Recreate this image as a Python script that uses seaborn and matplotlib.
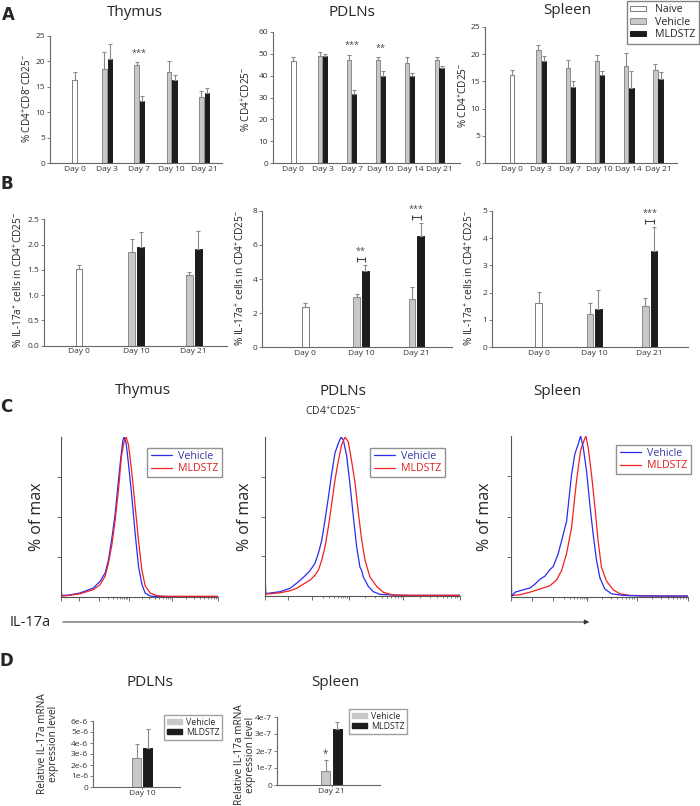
"""IL-17a in CD4+CD25- T cells: bar panels (A, B, D) and flow histograms (C)."""

import matplotlib
matplotlib.use("Agg")
import matplotlib.pyplot as plt
from matplotlib.lines import Line2D
from matplotlib.patches import FancyArrowPatch, Patch
import numpy as np
import pandas as pd
import seaborn as sns

sns.set_style("white")
plt.rcParams["font.family"] = ["Open Sans", "DejaVu Sans"]
plt.rcParams["mathtext.fontset"] = "custom"
plt.rcParams["mathtext.rm"] = "Open Sans"
plt.rcParams["mathtext.it"] = "Open Sans:italic"
plt.rcParams["mathtext.bf"] = "Open Sans:bold"

W, H = 700, 806

GROUPS = ["Naive", "Vehicle", "MLDSTZ"]
COLORS = {"Naive": "#ffffff", "Vehicle": "#c8c8c8", "MLDSTZ": "#1c1c1c"}
EDGES = {"Naive": "#7a7a7a", "Vehicle": "#8a8a8a", "MLDSTZ": "#1c1c1c"}
BLUE, RED = "#2b2bf0", "#f02020"

# ---- panel A: % CD4+CD25- (thymus: CD4+CD8-CD25-) ----
DAYS_A_THY = ["Day 0", "Day 3", "Day 7", "Day 10", "Day 21"]
DAYS_A = ["Day 0", "Day 3", "Day 7", "Day 10", "Day 14", "Day 21"]

A_THY_NAIVE, A_THY_NAIVE_ERR = [16.4], [1.5]
A_THY_VEH = [18.6, 19.2, 17.9, 13.0]
A_THY_VEH_ERR = [3.2, 0.7, 2.2, 1.1]
A_THY_MLD = [20.4, 12.2, 16.3, 13.8]
A_THY_MLD_ERR = [3.1, 1.0, 1.0, 0.9]
A_THY_SIG = {"Day 7": "***"}

A_PDLN_NAIVE, A_PDLN_NAIVE_ERR = [46.6], [1.9]
A_PDLN_VEH = [49.2, 47.2, 47.2, 45.8, 47.3]
A_PDLN_VEH_ERR = [1.8, 2.4, 1.3, 2.7, 1.2]
A_PDLN_MLD = [48.9, 31.6, 39.7, 40.0, 43.5]
A_PDLN_MLD_ERR = [1.0, 2.0, 2.6, 1.2, 0.8]
A_PDLN_SIG = {"Day 7": "***", "Day 10": "**"}

A_SPL_NAIVE, A_SPL_NAIVE_ERR = [16.1], [1.0]
A_SPL_VEH = [20.7, 17.4, 18.8, 17.8, 17.1]
A_SPL_VEH_ERR = [0.9, 1.6, 1.0, 2.5, 1.1]
A_SPL_MLD = [18.7, 13.9, 16.1, 13.7, 15.5]
A_SPL_MLD_ERR = [1.0, 1.2, 0.9, 3.3, 1.3]

# ---- panel B: % IL-17a+ cells in CD4+CD25- ----
DAYS_B = ["Day 0", "Day 10", "Day 21"]

B_THY_NAIVE, B_THY_NAIVE_ERR = [1.52], [0.08]
B_THY_VEH, B_THY_VEH_ERR = [1.85, 1.40], [0.25, 0.06]
B_THY_MLD, B_THY_MLD_ERR = [1.95, 1.92], [0.29, 0.35]

B_PDLN_NAIVE, B_PDLN_NAIVE_ERR = [2.34], [0.27]
B_PDLN_VEH, B_PDLN_VEH_ERR = [2.97, 2.81], [0.13, 0.70]
B_PDLN_MLD, B_PDLN_MLD_ERR = [4.49, 6.52], [0.31, 0.74]
B_PDLN_SIG = {"Day 10": "**", "Day 21": "***"}

B_SPL_NAIVE, B_SPL_NAIVE_ERR = [1.61], [0.43]
B_SPL_VEH, B_SPL_VEH_ERR = [1.21, 1.51], [0.42, 0.31]
B_SPL_MLD, B_SPL_MLD_ERR = [1.40, 3.52], [0.69, 0.87]
B_SPL_SIG = {"Day 21": "***"}

# ---- panel C: IL-17a histograms (% of max), x as fraction of the axis ----
C_THY_VEH_X = [0.0, 0.004, 0.05, 0.121, 0.206, 0.249, 0.281, 0.302, 0.323, 0.345, 0.366,
               0.381, 0.394, 0.402, 0.415, 0.430, 0.451, 0.472, 0.494, 0.515, 0.536,
               0.568, 0.611, 0.700, 1.0]
C_THY_VEH_Y = [8, 1, 1.2, 2.5, 5.6, 9.8, 15, 23, 36, 52, 73,
               87, 98, 100, 96, 83, 63, 40, 19, 8, 2.5,
               0.6, 0.3, 0.3, 0.3]
C_THY_MLD_X = [0.0, 0.004, 0.05, 0.121, 0.206, 0.249, 0.281, 0.302, 0.323, 0.345, 0.366,
               0.385, 0.402, 0.415, 0.430, 0.451, 0.472, 0.494, 0.515, 0.536,
               0.568, 0.611, 0.674, 1.0]
C_THY_MLD_Y = [3, 0.5, 1.0, 2.0, 4.6, 7.7, 13, 21, 32, 48, 67,
               88, 97, 100, 95, 78, 57, 35, 17, 7,
               2.5, 0.8, 0.4, 0.4]

C_PDLN_VEH_X = [0.0, 0.004, 0.077, 0.128, 0.162, 0.197, 0.231, 0.256, 0.274, 0.291, 0.308,
                0.325, 0.342, 0.359, 0.376, 0.390, 0.402, 0.419, 0.436, 0.453, 0.470,
                0.487, 0.496, 0.504, 0.530, 0.556, 0.590, 0.700, 1.0]
C_PDLN_VEH_Y = [14, 1.5, 2.7, 4.8, 8, 11.7, 16, 20.5, 27, 35, 48,
                62, 77, 90, 96, 100, 98, 88, 70, 50, 31,
                18, 16, 12, 6, 2.7, 1.0, 0.4, 0.4]
C_PDLN_MLD_X = [0.0, 0.004, 0.077, 0.128, 0.162, 0.197, 0.231, 0.256, 0.274, 0.291, 0.308,
                0.325, 0.342, 0.359, 0.376, 0.393, 0.410, 0.427, 0.444, 0.462, 0.479,
                0.496, 0.513, 0.538, 0.573, 0.607, 0.658, 0.761, 1.0]
C_PDLN_MLD_Y = [6, 1.2, 2.0, 3.3, 4.8, 7.5, 10, 13, 16.3, 22.6, 31,
                43.5, 58, 73, 85, 95, 100, 97, 85, 71, 52,
                35, 22.6, 12, 6, 2.3, 0.6, 0.4, 0.4]

C_SPL_VEH_X = [0.0, 0.004, 0.023, 0.070, 0.107, 0.135, 0.164, 0.192, 0.220, 0.239, 0.267,
               0.286, 0.314, 0.342, 0.361, 0.380, 0.393, 0.408, 0.427, 0.445, 0.464,
               0.483, 0.502, 0.530, 0.568, 0.633, 0.746, 1.0]
C_SPL_VEH_Y = [16, 0.5, 3, 4.5, 5.6, 8, 11, 13, 17, 19, 27,
               35, 47, 76, 89, 95, 100, 93, 78, 58, 39,
               23, 12, 5, 2, 1, 0.6, 0.6]
C_SPL_MLD_X = [0.0, 0.051, 0.107, 0.164, 0.220, 0.258, 0.286, 0.314, 0.342, 0.370, 0.393,
               0.412, 0.423, 0.436, 0.455, 0.474, 0.492, 0.511, 0.539, 0.577, 0.615,
               0.671, 0.840, 1.0]
C_SPL_MLD_Y = [1, 1.4, 3, 5, 7, 10.7, 16.5, 27, 43, 72, 91,
               97, 100, 93, 76, 56, 35, 18.5, 10, 4.5, 2,
               1, 0.6, 0.6]

# ---- panel D: relative IL-17a mRNA ----
D_PDLN_DAY = ["Day 10"]
D_PDLN_VEH, D_PDLN_VEH_ERR = [2.6e-6], [1.3e-6]
D_PDLN_MLD, D_PDLN_MLD_ERR = [3.55e-6], [1.7e-6]
D_SPL_DAY = ["Day 21"]
D_SPL_VEH, D_SPL_VEH_ERR = [0.8e-7], [0.7e-7]
D_SPL_MLD, D_SPL_MLD_ERR = [3.3e-7], [0.4e-7]
D_SPL_SIG = {"Vehicle": "*"}

fig = plt.figure(figsize=(W / 100, H / 100), dpi=100)


def add_ax(l, t, r, b):
    """Axes from pixel box (left, top, right, bottom)."""
    return fig.add_axes([l / W, 1 - b / H, (r - l) / W, (b - t) / H])


def ftext(x, y, s, **kw):
    fig.text(x / W, 1 - y / H, s, ha=kw.pop("ha", "center"), va=kw.pop("va", "center"), **kw)


def style_axes(ax, tick_size=6):
    sns.despine(ax=ax)
    for side in ("left", "bottom"):
        ax.spines[side].set_color("#666666")
        ax.spines[side].set_linewidth(0.8)
    ax.tick_params(axis="y", length=2, width=0.6, color="#666666", labelsize=tick_size,
                   labelcolor="#333333", pad=1.5, left=True)
    ax.tick_params(axis="x", length=0, labelsize=tick_size, labelcolor="#333333", pad=2)
    ax.set_xlabel("")
    ax.set_ylabel("")


def bar_panel(ax, days, naive, naive_err, veh, veh_err, mld, mld_err,
              bar_w, pair_w, gap):
    rows = []
    if naive is not None:
        rows.append((days[0], "Naive", naive[0], naive_err[0]))
    treat_days = days[1:] if naive is not None else days
    rows += [(d, "Vehicle", v, e) for d, v, e in zip(treat_days, veh, veh_err)]
    rows += [(d, "MLDSTZ", v, e) for d, v, e in zip(treat_days, mld, mld_err)]
    df = pd.DataFrame(rows, columns=["day", "group", "value", "err"])

    groups = []
    if naive is not None:
        sns.barplot(data=df[df.group == "Naive"], x="day", y="value", order=days,
                    color=COLORS["Naive"], width=bar_w, saturation=1, errorbar=None,
                    linewidth=0.7, edgecolor=EDGES["Naive"], ax=ax)
        groups.append("Naive")
    sns.barplot(data=df[df.group != "Naive"], x="day", y="value", hue="group",
                hue_order=["Vehicle", "MLDSTZ"], order=days,
                palette=[COLORS["Vehicle"], COLORS["MLDSTZ"]], width=pair_w, gap=gap,
                saturation=1, errorbar=None, linewidth=0.7, legend=False, ax=ax)
    groups += ["Vehicle", "MLDSTZ"]

    lookup = {(r.group, r.day): (r.value, r.err) for r in df.itertuples()}
    centers = {}
    for cont, grp in zip(list(ax.containers), groups):
        for p in cont.patches:
            p.set_edgecolor(EDGES[grp])
            cx = p.get_x() + p.get_width() / 2
            day = days[int(round(cx))]
            val, err = lookup[(grp, day)]
            centers[(grp, day)] = (cx, val + err)
            ax.errorbar(cx, val, yerr=[[0], [err]], fmt="none", ecolor="#8a8a8a",
                        elinewidth=0.8, capsize=1.6, capthick=0.8)
    return centers


def stars_above(ax, centers, sig, ymax, days):
    for day, s in sig.items():
        top = max(centers[("Vehicle", day)][1], centers[("MLDSTZ", day)][1])
        ax.text(days.index(day), top + 0.07 * ymax, s, ha="center", va="center",
                fontsize=6.5, color="#444444")


def bracket_stars(ax, centers, sig, ymax):
    for day, s in sig.items():
        x1, t1 = centers[("Vehicle", day)]
        x2, t2 = centers[("MLDSTZ", day)]
        yb = max(t1, t2) + 0.05 * ymax
        ax.errorbar((x1 + x2) / 2, yb, xerr=(x2 - x1) / 2, fmt="none", ecolor="#444444",
                    elinewidth=0.8, capsize=1.8, capthick=0.8)
        ax.text((x1 + x2) / 2, yb + 0.05 * ymax, s, ha="center", va="center",
                fontsize=6.5, color="#444444")


# ================= A =================
ax = add_ax(50, 36, 222, 163)
c = bar_panel(ax, DAYS_A_THY, A_THY_NAIVE, A_THY_NAIVE_ERR, A_THY_VEH, A_THY_VEH_ERR,
              A_THY_MLD, A_THY_MLD_ERR, 0.15, 0.34, 0.18)
ax.set_ylim(0, 25)
ax.set_yticks(range(0, 26, 5))
ax.set_xlim(-0.76, 4.55)
style_axes(ax)
stars_above(ax, c, A_THY_SIG, 25, DAYS_A_THY)
ftext(28, 99, "% CD4$^{+}$CD8$^{-}$CD25$^{-}$", rotation=90, fontsize=7.2, color="#222222")

ax = add_ax(273, 32, 460, 163)
c = bar_panel(ax, DAYS_A, A_PDLN_NAIVE, A_PDLN_NAIVE_ERR, A_PDLN_VEH, A_PDLN_VEH_ERR,
              A_PDLN_MLD, A_PDLN_MLD_ERR, 0.15, 0.34, 0.18)
ax.set_ylim(0, 60)
ax.set_yticks(range(0, 61, 10))
ax.set_xlim(-0.70, 5.72)
style_axes(ax)
stars_above(ax, c, A_PDLN_SIG, 60, DAYS_A)
ftext(247, 99, "% CD4$^{+}$CD25$^{-}$", rotation=90, fontsize=7.2, color="#222222")

ax = add_ax(485, 27, 677, 163)
bar_panel(ax, DAYS_A, A_SPL_NAIVE, A_SPL_NAIVE_ERR, A_SPL_VEH, A_SPL_VEH_ERR,
          A_SPL_MLD, A_SPL_MLD_ERR, 0.15, 0.36, 0.18)
ax.set_ylim(0, 25)
ax.set_yticks(range(0, 26, 5))
ax.set_xlim(-0.92, 5.65)
style_axes(ax)
ftext(464, 95, "% CD4$^{+}$CD25$^{-}$", rotation=90, fontsize=7.2, color="#222222")

leg_a = [Patch(facecolor=COLORS[g], edgecolor=EDGES[g], linewidth=0.7) for g in GROUPS]
fig.legend(leg_a, GROUPS, loc="upper right", bbox_to_anchor=(699 / W, 1 - 1 / H),
           fontsize=7.7, frameon=True, fancybox=False, edgecolor="#666666",
           handlelength=1.5, handleheight=0.45, handletextpad=0.9, labelspacing=0.15,
           borderpad=0.3, borderaxespad=0)

ftext(135, 12, "Thymus", fontsize=11)
ftext(352, 12, "PDLNs", fontsize=11)
ftext(567, 10, "Spleen", fontsize=11)
ftext(8, 15, "A", fontsize=12, fontweight="bold", family="DejaVu Sans")

# ================= B =================
ax = add_ax(44, 219.3, 227, 345.5)
bar_panel(ax, DAYS_B, B_THY_NAIVE, B_THY_NAIVE_ERR, B_THY_VEH, B_THY_VEH_ERR,
          B_THY_MLD, B_THY_MLD_ERR, 0.12, 0.31, 0.22)
ax.set_ylim(0, 2.5)
ax.set_yticks(np.arange(0, 2.51, 0.5))
ax.set_yticklabels([f"{v:.1f}" for v in np.arange(0, 2.51, 0.5)])
ax.set_xlim(-0.61, 2.58)
style_axes(ax)
ftext(19, 280, "% IL-17a$^{+}$ cells in CD4$^{+}$CD25$^{-}$", rotation=90, fontsize=7.3,
      color="#222222")

ax = add_ax(262, 210.7, 452, 347.3)
c = bar_panel(ax, DAYS_B, B_PDLN_NAIVE, B_PDLN_NAIVE_ERR, B_PDLN_VEH, B_PDLN_VEH_ERR,
              B_PDLN_MLD, B_PDLN_MLD_ERR, 0.12, 0.31, 0.22)
ax.set_ylim(0, 8)
ax.set_yticks(range(0, 9, 2))
ax.set_xlim(-0.78, 2.64)
style_axes(ax)
bracket_stars(ax, c, B_PDLN_SIG, 8)
ftext(241, 278, "% IL-17a$^{+}$ cells in CD4$^{+}$CD25$^{-}$", rotation=90, fontsize=7.3,
      color="#222222")

ax = add_ax(492, 210.7, 688, 347.3)
c = bar_panel(ax, DAYS_B, B_SPL_NAIVE, B_SPL_NAIVE_ERR, B_SPL_VEH, B_SPL_VEH_ERR,
              B_SPL_MLD, B_SPL_MLD_ERR, 0.12, 0.31, 0.22)
ax.set_ylim(0, 5)
ax.set_yticks(range(0, 6))
ax.set_xlim(-0.84, 2.69)
style_axes(ax)
bracket_stars(ax, c, B_SPL_SIG, 5)
ftext(470, 278, "% IL-17a$^{+}$ cells in CD4$^{+}$CD25$^{-}$", rotation=90, fontsize=7.3,
      color="#222222")

ftext(7, 184, "B", fontsize=12, fontweight="bold", family="DejaVu Sans")

# ================= C =================
C_MAJOR = [0.0, 0.117, 0.24, 0.43, 0.71, 1.0]
C_MINOR = [a + (b - a) * np.log10(k) for a, b in zip(C_MAJOR[2:-1], C_MAJOR[3:])
           for k in range(2, 10)]


def hist_panel(box, veh_x, veh_y, mld_x, mld_y, veh_on_top, legend_anchor, ylab_x):
    ax = add_ax(*box)
    order = [("MLDSTZ", mld_x, mld_y, RED), ("Vehicle", veh_x, veh_y, BLUE)]
    if not veh_on_top:
        order = order[::-1]
    for _, xs, ys, col in order:
        sns.lineplot(x=xs, y=ys, ax=ax, color=col, linewidth=0.9, sort=False,
                     estimator=None, legend=False)
    ax.set_xlim(0, 1)
    ax.set_ylim(0, 100)
    sns.despine(ax=ax)
    for side in ("left", "bottom"):
        ax.spines[side].set_color("#555555")
        ax.spines[side].set_linewidth(0.8)
    ax.set_yticks([25, 50, 75])
    ax.set_yticklabels([])
    ax.set_xticks(C_MAJOR)
    ax.set_xticks(C_MINOR, minor=True)
    ax.set_xticklabels([])
    ax.tick_params(axis="y", left=True, length=3, width=0.6, color="#555555")
    ax.tick_params(axis="x", which="major", bottom=True, length=3, width=0.6, color="#555555")
    ax.tick_params(axis="x", which="minor", bottom=True, length=1.6, width=0.5, color="#555555")
    ax.set_xlabel("")
    ax.set_ylabel("")
    handles = [Line2D([0], [0], color=BLUE, lw=0.9), Line2D([0], [0], color=RED, lw=0.9)]
    leg = fig.legend(handles, ["Vehicle", "MLDSTZ"], loc="upper right",
                     bbox_to_anchor=(legend_anchor[0] / W, 1 - legend_anchor[1] / H),
                     fontsize=7.7, frameon=True, fancybox=False, edgecolor="#777777",
                     handlelength=2.0, handletextpad=0.6, labelspacing=0.1,
                     borderpad=0.3, borderaxespad=0)
    leg.get_texts()[0].set_color("#3a3aa0")
    leg.get_texts()[1].set_color("#e02020")
    ftext(ylab_x, (box[1] + box[3]) / 2, "% of max", rotation=90, fontsize=11.5)
    return ax


hist_panel((61, 437, 218, 597), C_THY_VEH_X, C_THY_VEH_Y, C_THY_MLD_X, C_THY_MLD_Y,
           False, (222, 448), 37)
hist_panel((265, 437, 460, 596), C_PDLN_VEH_X, C_PDLN_VEH_Y, C_PDLN_MLD_X, C_PDLN_MLD_Y,
           False, (445, 448), 245)
hist_panel((511, 436, 688, 597), C_SPL_VEH_X, C_SPL_VEH_Y, C_SPL_MLD_X, C_SPL_MLD_Y,
           True, (691, 445), 485)

ftext(143, 390, "Thymus", fontsize=11)
ftext(343, 391, "PDLNs", fontsize=11)
ftext(333, 412, "CD4$^{+}$CD25$^{-}$", fontsize=7.5)
ftext(557, 391, "Spleen", fontsize=11)
ftext(6, 407, "C", fontsize=12, fontweight="bold", family="DejaVu Sans")
ftext(10, 622, "IL-17a", fontsize=10.5, ha="left")
fig.add_artist(FancyArrowPatch((60 / W, 1 - 622 / H), (592 / W, 1 - 622 / H),
                               transform=fig.transFigure, arrowstyle="-|>",
                               mutation_scale=7, color="#333333", linewidth=0.7))

# ================= D =================
def d_panel(box, day, veh, veh_err, mld, mld_err, ymax, ticks, ticklabels, xlim,
            legend_anchor):
    ax = add_ax(*box)
    c = bar_panel(ax, day, None, None, veh, veh_err, mld, mld_err, None, 0.5, 0.23)
    ax.set_ylim(0, ymax)
    ax.set_yticks(ticks)
    ax.set_yticklabels(ticklabels)
    ax.set_xlim(*xlim)
    style_axes(ax)
    ax.tick_params(axis="x", length=1.5, width=0.6, color="#666666", bottom=True, pad=0.5)
    handles = [Patch(facecolor=COLORS[g], edgecolor=COLORS[g]) for g in ("Vehicle", "MLDSTZ")]
    fig.legend(handles, ["Vehicle", "MLDSTZ"], loc="upper left",
               bbox_to_anchor=(legend_anchor[0] / W, 1 - legend_anchor[1] / H),
               fontsize=6.3, frameon=True, fancybox=False, edgecolor="#888888",
               handlelength=1.8, handleheight=0.5, handletextpad=0.4, labelspacing=0.15,
               borderpad=0.3, borderaxespad=0)
    return ax, c


ax, c = d_panel((93, 721, 180, 787), D_PDLN_DAY, D_PDLN_VEH, D_PDLN_VEH_ERR,
                D_PDLN_MLD, D_PDLN_MLD_ERR, 6e-6, [i * 1e-6 for i in range(7)],
                ["0"] + [f"{i}e-6" for i in range(1, 7)], (-1.11, 0.86), (164, 715))
ax, c = d_panel((277, 717, 380, 785), D_SPL_DAY, D_SPL_VEH, D_SPL_VEH_ERR,
                D_SPL_MLD, D_SPL_MLD_ERR, 4e-7, [i * 1e-7 for i in range(5)],
                ["0"] + [f"{i}e-7" for i in range(1, 5)], (-1.18, 1.05), (349, 709))
for grp, s in D_SPL_SIG.items():
    cx, top = c[(grp, D_SPL_DAY[0])]
    ax.text(cx, top + 0.09 * 4e-7, s, ha="center", va="center", fontsize=7, color="#444444")

ftext(48, 744, "Relative IL-17a mRNA\nexpression level", rotation=90, fontsize=7.3,
      linespacing=1.1)
ftext(245, 755, "Relative IL-17a mRNA\nexpression level", rotation=90, fontsize=7.3,
      linespacing=1.1)
ftext(150, 682, "PDLNs", fontsize=11)
ftext(335, 682, "Spleen", fontsize=11)
ftext(6, 661, "D", fontsize=12, fontweight="bold", family="DejaVu Sans")

fig.savefig("out.png", dpi=100, facecolor="white")
